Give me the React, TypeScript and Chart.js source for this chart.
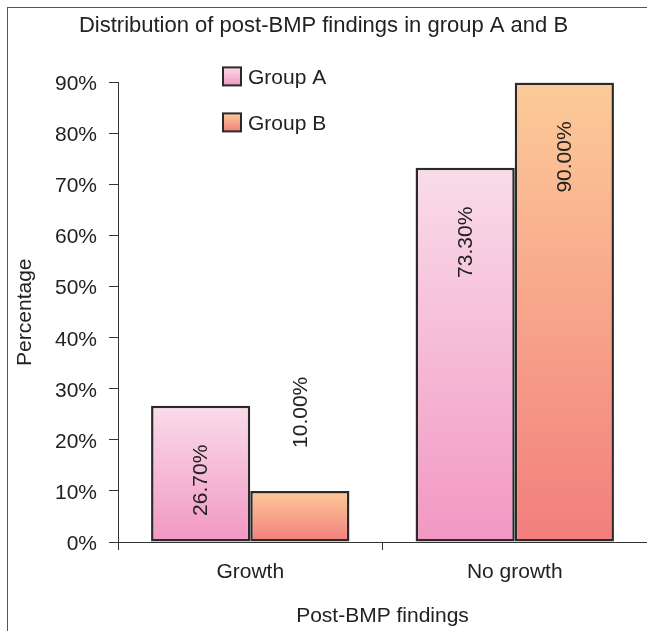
import React, { useEffect, useRef } from "react";
import { Chart, registerables } from "chart.js";

Chart.register(...registerables);

// ---- data ----
const categories = ["Growth", "No growth"];
const seriesNames = ["Group A", "Group B"];
const groupA = [26.7, 73.3];
const groupB = [10.0, 90.0];
const yMax = 90;
const yStep = 10;
const chartTitle = "Distribution of post-BMP findings in group A and B";
const xTitle = "Post-BMP findings";
const yTitle = "Percentage";

// ---- styles ----
const FONT = "'Liberation Sans', Arial, Helvetica, sans-serif";
const TEXT = "#222222";
const LINE = "#333333";
const gradA = ["#f9dce9", "#f297c3"];
const gradB = ["#fccb98", "#f27e7d"];

const makeGradient = (top: string, bottom: string) => (ctx: any) => {
  const chart = ctx.chart;
  const y = chart.scales && chart.scales.y;
  if (!y || ctx.type !== "data") return bottom;
  const v = ctx.parsed ? ctx.parsed.y : ctx.raw;
  const yTop = y.getPixelForValue(v);
  const yBase = y.getPixelForValue(0);
  if (!isFinite(yTop) || !isFinite(yBase) || yTop === yBase) return bottom;
  const g = chart.ctx.createLinearGradient(0, yTop, 0, yBase);
  g.addColorStop(0, top);
  g.addColorStop(1, bottom);
  return g;
};

const framePlugin = {
  id: "frame",
  beforeDraw(chart: any) {
    const c = chart.ctx;
    c.save();
    c.fillStyle = "#ffffff";
    c.fillRect(0, 0, chart.width, chart.height);
    c.strokeStyle = "#555555";
    c.lineWidth = 1;
    c.strokeRect(7.5, 7.5, chart.width + 20, chart.height + 20);
    c.restore();
  },
};

const labelPlugin = {
  id: "barLabels",
  afterDatasetsDraw(chart: any) {
    const c = chart.ctx;
    c.save();
    c.font = `21px ${FONT}`;
    c.fillStyle = TEXT;
    c.textAlign = "center";
    c.textBaseline = "middle";
    chart.data.datasets.forEach((ds: any, di: number) => {
      const meta = chart.getDatasetMeta(di);
      meta.data.forEach((el: any, i: number) => {
        const v = ds.data[i];
        const txt = v.toFixed(2) + "%";
        const w = c.measureText(txt).width;
        const top = el.y;
        const base = el.base;
        const inside = 39;
        const outside = 43;
        let cy: number;
        if (base - top > w + inside + 10) {
          cy = top + inside + w / 2;
        } else {
          cy = top - outside - w / 2;
        }
        c.save();
        c.translate(el.x, cy);
        c.rotate(-Math.PI / 2);
        c.fillText(txt, 0, 1);
        c.restore();
      });
    });
    c.restore();
  },
};

const legendPlugin = {
  id: "customLegend",
  afterDraw(chart: any) {
    const c = chart.ctx;
    const area = chart.chartArea;
    const grads = [gradA, gradB];
    const x0 = area.left + 105;
    const y0 = area.top - 15;
    const box = 18;
    const gap = 46;
    c.save();
    c.font = `21px ${FONT}`;
    c.textBaseline = "middle";
    c.textAlign = "left";
    chart.data.datasets.forEach((ds: any, i: number) => {
      const by = y0 + i * gap;
      const g = c.createLinearGradient(0, by, 0, by + box);
      g.addColorStop(0, grads[i][0]);
      g.addColorStop(1, grads[i][1]);
      c.fillStyle = g;
      c.fillRect(x0, by, box, box);
      c.strokeStyle = "#2a2a2a";
      c.lineWidth = 2;
      c.strokeRect(x0, by, box, box);
      c.fillStyle = TEXT;
      c.fillText(ds.label, x0 + box + 7, by + box / 2 + 2);
    });
    c.restore();
  },
};

export default function App() {
  const ref = useRef<HTMLCanvasElement | null>(null);

  useEffect(() => {
    if (!ref.current) return;
    const chart = new Chart(ref.current, {
      type: "bar",
      data: {
        labels: categories,
        datasets: [
          {
            label: seriesNames[0],
            data: groupA,
            backgroundColor: makeGradient(gradA[0], gradA[1]),
            borderColor: "#2a2a2a",
            borderWidth: 2.5,
            borderSkipped: false,
            categoryPercentage: 0.75,
            barPercentage: 1,
          },
          {
            label: seriesNames[1],
            data: groupB,
            backgroundColor: makeGradient(gradB[0], gradB[1]),
            borderColor: "#2a2a2a",
            borderWidth: 2.5,
            borderSkipped: false,
            categoryPercentage: 0.75,
            barPercentage: 1,
          },
        ],
      },
      options: {
        responsive: false,
        animation: false,
        layout: { padding: { left: 0, right: 0, top: 0, bottom: 0 } },
        plugins: {
          legend: { display: false },
          tooltip: { enabled: false },
          title: {
            display: true,
            text: chartTitle,
            color: TEXT,
            font: { family: FONT, size: 22, weight: "normal" as any },
            padding: { top: 13, bottom: 43 },
          },
        },
        scales: {
          x: {
            type: "category",
            offset: true,
            grid: {
              display: true,
              offset: true,
              drawOnChartArea: false,
              drawTicks: true,
              tickLength: 8,
              color: LINE,
            },
            border: { display: true, color: LINE, width: 1 },
            ticks: {
              color: TEXT,
              font: { family: FONT, size: 21 },
              padding: 10,
            },
            title: {
              display: true,
              text: xTitle,
              color: TEXT,
              font: { family: FONT, size: 21 },
              padding: { top: 0, bottom: 2 },
            },
            afterFit: (s: any) => {
              s.height = 89;
            },
          },
          y: {
            type: "linear",
            min: 0,
            max: yMax,
            grid: {
              display: true,
              drawOnChartArea: false,
              drawTicks: true,
              tickLength: 9,
              color: LINE,
            },
            border: { display: true, color: LINE, width: 1 },
            ticks: {
              stepSize: yStep,
              color: TEXT,
              font: { family: FONT, size: 21 },
              padding: 12,
              labelOffset: 2,
              callback: (v: any) => `${v}%`,
            },
            title: {
              display: true,
              text: yTitle,
              color: TEXT,
              font: { family: FONT, size: 21 },
              padding: { top: 13, bottom: 0 },
            },
            afterFit: (s: any) => {
              s.width = 118;
            },
          },
        },
      },
      plugins: [framePlugin, labelPlugin, legendPlugin],
    });
    return () => chart.destroy();
  }, []);

  return (
    <div style={{ position: "absolute", left: 0, top: 0, width: 647, height: 631 }}>
      <canvas ref={ref} width={647} height={631} style={{ width: 647, height: 631, display: "block" }} />
    </div>
  );
}
